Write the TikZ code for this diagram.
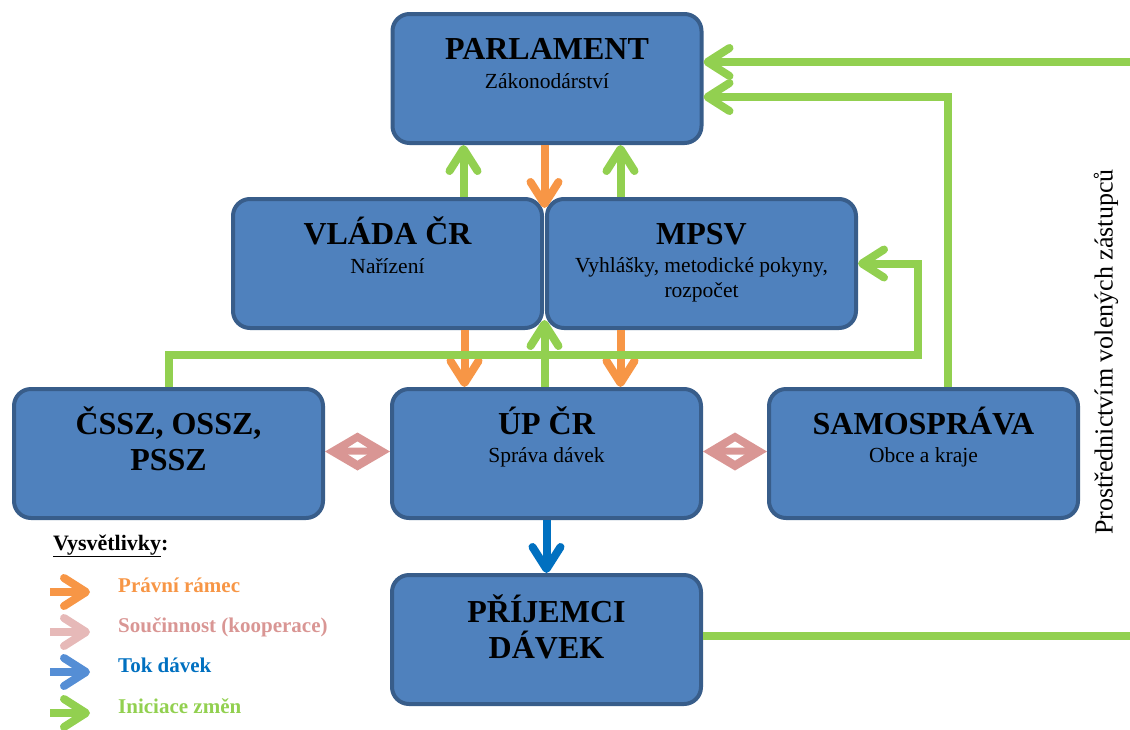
\documentclass[tikz,border=0pt]{standalone}
\usepackage{fontspec}
\setmainfont{Liberation Serif}
\usetikzlibrary{arrows.meta,calc}
\definecolor{boxfill}{HTML}{4F81BD}
\definecolor{boxline}{HTML}{385D8A}
\definecolor{cgreen}{HTML}{92D050}
\definecolor{corange}{HTML}{F79646}
\definecolor{cblue}{HTML}{0070C0}
\definecolor{cpink}{HTML}{D99694}
\definecolor{lpink}{HTML}{E6B9B8}
\definecolor{lblue}{HTML}{558ED5}
\begin{document}
\begin{tikzpicture}[x=1pt,y=-1pt,
  box/.style={draw=boxline,fill=boxfill,line width=4pt,rounded corners=17pt,
    minimum width=309pt,minimum height=129pt,inner sep=0pt},
  ttl/.style={font=\fontsize{32}{36}\selectfont\bfseries,anchor=base,inner sep=0pt},
  sub/.style={font=\fontsize{21.5}{25}\selectfont,anchor=base,inner sep=0pt},
  conn/.style={line width=8pt,-{Straight Barb[length=22pt,width=28pt,round]}},
  plain/.style={line width=8pt},
  leg/.style={font=\fontsize{21}{24}\selectfont\bfseries,anchor=base west,inner sep=0pt},
  legarr/.style={line width=8pt,-{Straight Barb[length=22pt,width=28pt,round]}}]
\useasboundingbox (0,0) rectangle (1130,729);

% boxes
\node[box] (pa) at (547,78.5) {};
\node[box] (vl) at (387.5,263.5) {};
\node[box] (mp) at (701.5,263.5) {};
\node[box] (cs) at (168.5,453.5) {};
\node[box] (up) at (546.5,453.5) {};
\node[box] (sa) at (923.5,453.5) {};
\node[box] (pr) at (546.5,639.5) {};

% texts
\node[ttl] (pat) at ($(pa.north)+(0,47)$) {PARLAMENT};
\node[sub] (pas) at ($(pa.north)+(0,76)$) {Zákonodárství};
\node[ttl] (vlt) at ($(vl.north)+(0,47)$) {VLÁDA ČR};
\node[sub] (vls) at ($(vl.north)+(0,76)$) {Nařízení};
\node[ttl] (mpt) at ($(mp.north)+(0,47)$) {MPSV};
\node[sub] (mps1) at ($(mp.north)+(0,75)$) {Vyhlášky, metodické pokyny,};
\node[sub] (mps2) at ($(mp.north)+(0,100)$) {rozpočet};
\node[ttl] (cst1) at ($(cs.north)+(0,47)$) {ČSSZ, OSSZ,};
\node[ttl] (cst2) at ($(cs.north)+(0,83)$) {PSSZ};
\node[ttl] (upt) at ($(up.north)+(0,47)$) {ÚP ČR};
\node[sub] (ups) at ($(up.north)+(0,75)$) {Správa dávek};
\node[ttl] (sat) at ($(sa.north)+(0,47)$) {SAMOSPRÁVA};
\node[sub] (sas) at ($(sa.north)+(0,75)$) {Obce a kraje};
\node[ttl] (prt1) at ($(pr.north)+(0,49)$) {PŘÍJEMCI};
\node[ttl] (prt2) at ($(pr.north)+(0,85)$) {DÁVEK};

% junction coordinates
\coordinate (jt) at ($(vl.north east)!0.5!(mp.north west)$);
\coordinate (jb) at ($(vl.south east)!0.5!(mp.south west)$);
\coordinate (rt) at (1130,62);
\coordinate (rb) at (1130,636);

% orange: legal framework
\draw[conn,corange] (pa.south -| jt) -- ([yshift=-11pt]jt);
\draw[conn,corange] ([xshift=77pt]vl.south) -- ([xshift=77pt]vl.south |- up.north);
\draw[conn,corange] ([xshift=-81pt]mp.south) -- ([xshift=-81pt]mp.south |- up.north);

% blue: flow of benefits
\draw[conn,cblue] (up.south) -- (pr.north);

% green: initiation of changes
\draw[conn,cgreen] ([xshift=76pt]vl.north) -- ([xshift=76pt]vl.north |- pa.south);
\draw[conn,cgreen] ([xshift=-81pt]mp.north) -- ([xshift=-81pt]mp.north |- pa.south);
\draw[conn,cgreen] (cs.north) -- ++(0,-32) -| ([xshift=60pt]mp.east) -- (mp.east);
\draw[conn,cgreen] (up.north -| jb) -- ([yshift=10pt]jb);
\draw[conn,cgreen] ([xshift=24.5pt]sa.north) |- ([yshift=-18.5pt]pa.east);
\draw[conn,cgreen] (rt) -- (rt -| pa.east);
\draw[plain,cgreen] (pr.east |- rb) -- (rb);

% pink: cooperation
\coordinate (dl) at ($(cs.east)!0.5!(up.west)+(0,-2)$);
\coordinate (dr) at ($(up.east)!0.5!(sa.west)+(0,-2)$);
\foreach \c/\a/\b in {dl/cs/up, dr/up/sa}{
  \fill[cpink] (\a.east |- \c) -- ($(\c)+(0,-19)$) -- (\b.west |- \c) -- ($(\c)+(0,19)$) -- cycle;
  \fill[white] ($(\c)+(-9.5,-4)$) -- ($(\c)+(9.5,-4)$) -- ($(\c)+(0,-10)$) -- cycle;
  \fill[white] ($(\c)+(-9.5,3)$) -- ($(\c)+(9.5,3)$) -- ($(\c)+(0,9)$) -- cycle;
}

% side label
\node[rotate=90,font=\fontsize{26}{30}\selectfont,inner sep=0pt] (side) at (1106,352) {Prostřednictvím volených zástupců};

% legend
\node[leg,font=\fontsize{22}{26}\selectfont\bfseries] (lh) at (53,550) {\underline{Vysvětlivky}:};
\node[leg,text=corange] (l1) at (118,592) {Právní rámec};
\node[leg,text=cpink] (l2) at (118,632) {Součinnost (kooperace)};
\node[leg,text=cblue] (l3) at (118,672) {Tok dávek};
\node[leg,text=cgreen] (l4) at (118,713) {Iniciace změn};
\draw[legarr,corange] ([xshift=-68pt]l1.base west) -- ++(40,0);
\draw[legarr,lpink] ([xshift=-68pt]l2.base west) -- ++(40,0);
\draw[legarr,lblue] ([xshift=-68pt]l3.base west) -- ++(40,0);
\draw[legarr,cgreen] ([xshift=-68pt]l4.base west) -- ++(40,0);
\end{tikzpicture}
\end{document}
